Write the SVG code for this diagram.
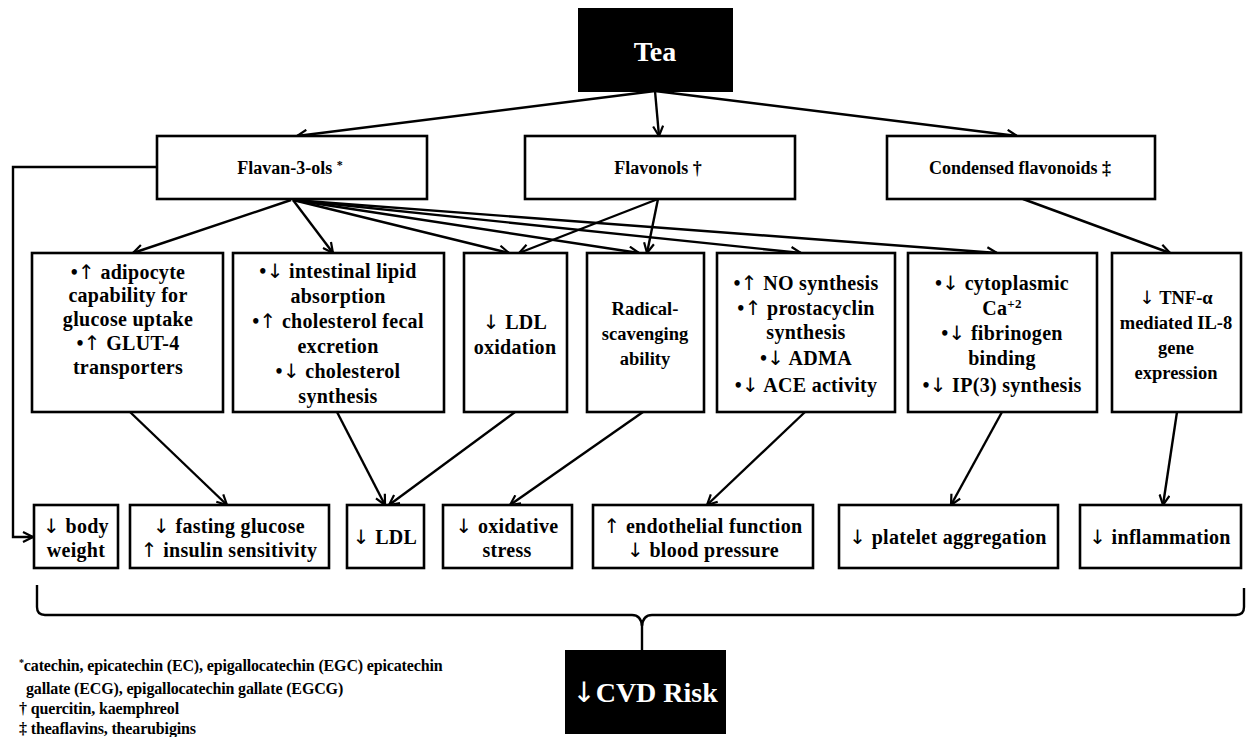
<svg xmlns="http://www.w3.org/2000/svg" width="1246" height="737" viewBox="0 0 1246 737">
<style>
.box{fill:#fff;stroke:#000;stroke-width:2.6}
.dark{fill:#000;stroke:#000;stroke-width:2}
.t{font-family:"Liberation Serif","Times New Roman",serif;font-weight:bold;fill:#000;text-anchor:middle}
.h{font-size:18px}
.m{font-size:20px;letter-spacing:0.3px}
.n{font-size:18.5px}
.big{font-size:28px;fill:#fff}
.ar{font-family:"DejaVu Sans",sans-serif;font-weight:normal}
.fn{font-family:"Liberation Serif","Times New Roman",serif;font-weight:bold;font-size:16px;fill:#000;letter-spacing:-0.15px}
.c{fill:none;stroke:#000;stroke-width:2.4}
</style>
<defs>
<marker id="ah" viewBox="0 0 12 12" refX="11" refY="6" markerWidth="12" markerHeight="12" markerUnits="userSpaceOnUse" orient="auto">
<path d="M1,1 L11,6 L1,11" fill="none" stroke="#000" stroke-width="2.2"/>
</marker>
</defs>
<rect width="1246" height="737" fill="#fff"/>

<g id="connectors">
<line class="c" x1="655" y1="91" x2="297" y2="136" marker-end="url(#ah)"/>
<line class="c" x1="655" y1="91" x2="659" y2="136" marker-end="url(#ah)"/>
<line class="c" x1="655" y1="91" x2="1017" y2="136" marker-end="url(#ah)"/>
<polyline class="c" points="157,167 13,167 13,537 33,537" marker-end="url(#ah)"/>
<line class="c" x1="291" y1="200" x2="133" y2="253" marker-end="url(#ah)"/>
<line class="c" x1="293" y1="200" x2="333" y2="253" marker-end="url(#ah)"/>
<line class="c" x1="293" y1="200" x2="509" y2="253" marker-end="url(#ah)"/>
<line class="c" x1="293" y1="200" x2="639" y2="253" marker-end="url(#ah)"/>
<line class="c" x1="293" y1="200" x2="801" y2="253" marker-end="url(#ah)"/>
<line class="c" x1="293" y1="200" x2="997" y2="253" marker-end="url(#ah)"/>
<line class="c" x1="658" y1="199" x2="519" y2="253" marker-end="url(#ah)"/>
<line class="c" x1="658" y1="199" x2="647" y2="253" marker-end="url(#ah)"/>
<line class="c" x1="1023" y1="199" x2="1170" y2="253" marker-end="url(#ah)"/>
<line class="c" x1="130" y1="412" x2="227" y2="505" marker-end="url(#ah)"/>
<line class="c" x1="337" y1="412" x2="385" y2="505" marker-end="url(#ah)"/>
<line class="c" x1="515" y1="412" x2="389" y2="505" marker-end="url(#ah)"/>
<line class="c" x1="643" y1="412" x2="510" y2="505" marker-end="url(#ah)"/>
<line class="c" x1="805" y1="412" x2="707" y2="505" marker-end="url(#ah)"/>
<line class="c" x1="1002" y1="412" x2="951" y2="505" marker-end="url(#ah)"/>
<line class="c" x1="1177" y1="412" x2="1163" y2="505" marker-end="url(#ah)"/>
<path class="c" d="M37,585 L37,607 Q37,615 45,615 L632,615 Q641,615 642,626 Q643,615 652,615 L1236,615 Q1244,615 1244,607 L1244,588"/>
<line class="c" x1="642" y1="624" x2="642" y2="651"/>
</g>

<g id="tea"><rect class="dark" x="579" y="9" width="153" height="82"/><text class="t big" x="655" y="61">Tea</text></g>
<g id="flavan"><rect class="box" x="157" y="136" width="270" height="63"/><text class="t h" x="290" y="174">Flavan-3-ols <tspan font-size="12" dy="-5">*</tspan></text></g>
<g id="flavonols"><rect class="box" x="525" y="136" width="270" height="63"/><text class="t h" x="658" y="174">Flavonols †</text></g>
<g id="condensed"><rect class="box" x="887" y="136" width="268" height="63"/><text class="t h" x="1020" y="174">Condensed flavonoids ‡</text></g>

<g id="adipocyte"><rect class="box" x="32" y="253" width="191" height="159"/>
<text class="t m" x="128"><tspan x="128" y="279">•<tspan class="ar">↑</tspan> adipocyte</tspan><tspan x="128" y="302">capability for</tspan><tspan x="128" y="326">glucose uptake</tspan><tspan x="128" y="350">•<tspan class="ar">↑</tspan> GLUT-4</tspan><tspan x="128" y="374">transporters</tspan></text></g>
<g id="lipid"><rect class="box" x="233" y="253" width="211" height="159"/>
<text class="t m" x="338"><tspan x="338" y="278">•<tspan class="ar">↓</tspan> intestinal lipid</tspan><tspan x="338" y="303">absorption</tspan><tspan x="338" y="328">•<tspan class="ar">↑</tspan> cholesterol fecal</tspan><tspan x="338" y="353">excretion</tspan><tspan x="338" y="378">•<tspan class="ar">↓</tspan> cholesterol</tspan><tspan x="338" y="403">synthesis</tspan></text></g>
<g id="ldlox"><rect class="box" x="464" y="253" width="103" height="159"/>
<text class="t m" x="515"><tspan x="515" y="329"><tspan class="ar">↓</tspan> LDL</tspan><tspan x="515" y="354">oxidation</tspan></text></g>
<g id="radical"><rect class="box" x="587" y="253" width="117" height="159"/>
<text class="t n" x="645"><tspan x="645" y="315">Radical-</tspan><tspan x="645" y="340">scavenging</tspan><tspan x="645" y="365">ability</tspan></text></g>
<g id="no"><rect class="box" x="717" y="253" width="178" height="159"/>
<text class="t m" x="806"><tspan x="806" y="290">•<tspan class="ar">↑</tspan> NO synthesis</tspan><tspan x="806" y="315">•<tspan class="ar">↑</tspan> prostacyclin</tspan><tspan x="806" y="339">synthesis</tspan><tspan x="806" y="365">•<tspan class="ar">↓</tspan> ADMA</tspan><tspan x="806" y="392">•<tspan class="ar">↓</tspan> ACE activity</tspan></text></g>
<g id="calcium"><rect class="box" x="908" y="253" width="189" height="159"/>
<text class="t m" x="1002"><tspan x="1002" y="290">•<tspan class="ar">↓</tspan> cytoplasmic</tspan><tspan x="1002" y="315">Ca<tspan font-size="13" dy="-7">+2</tspan></tspan><tspan x="1002" y="340">•<tspan class="ar">↓</tspan> fibrinogen</tspan><tspan x="1002" y="365">binding</tspan><tspan x="1002" y="392">•<tspan class="ar">↓</tspan> IP(3) synthesis</tspan></text></g>
<g id="tnf"><rect class="box" x="1112" y="253" width="129" height="159"/>
<text class="t n" x="1176"><tspan x="1176" y="304"><tspan class="ar">↓</tspan> TNF-α</tspan><tspan x="1176" y="329">mediated IL-8</tspan><tspan x="1176" y="354">gene</tspan><tspan x="1176" y="379">expression</tspan></text></g>

<g id="bodyweight"><rect class="box" x="34" y="505" width="84" height="63"/>
<text class="t m" x="76"><tspan x="76" y="533"><tspan class="ar">↓</tspan> body</tspan><tspan x="76" y="557">weight</tspan></text></g>
<g id="glucose"><rect class="box" x="130" y="505" width="199" height="63"/>
<text class="t m" x="229"><tspan x="229" y="533"><tspan class="ar">↓</tspan> fasting glucose</tspan><tspan x="229" y="557"><tspan class="ar">↑</tspan> insulin sensitivity</tspan></text></g>
<g id="ldl"><rect class="box" x="347" y="505" width="77" height="63"/><text class="t m" x="385" y="544"><tspan class="ar">↓</tspan> LDL</text></g>
<g id="oxstress"><rect class="box" x="443" y="505" width="129" height="63"/>
<text class="t m" x="507"><tspan x="507" y="533"><tspan class="ar">↓</tspan> oxidative</tspan><tspan x="507" y="557">stress</tspan></text></g>
<g id="endothelial"><rect class="box" x="593" y="505" width="220" height="63"/>
<text class="t m" x="703"><tspan x="703" y="533"><tspan class="ar">↑</tspan> endothelial function</tspan><tspan x="703" y="557"><tspan class="ar">↓</tspan> blood pressure</tspan></text></g>
<g id="platelet"><rect class="box" x="839" y="505" width="219" height="63"/><text class="t m" x="948" y="544"><tspan class="ar">↓</tspan> platelet aggregation</text></g>
<g id="inflammation"><rect class="box" x="1080" y="505" width="161" height="63"/><text class="t m" x="1160" y="544"><tspan class="ar">↓</tspan> inflammation</text></g>

<g id="cvd"><rect class="dark" x="566" y="651" width="159" height="82"/><text class="t big" x="645" y="702"><tspan class="ar">↓</tspan>CVD Risk</text></g>

<g id="footnotes">
<text class="fn" x="19" y="671"><tspan font-size="10" dy="-5">*</tspan><tspan dy="5">catechin, epicatechin (EC), epigallocatechin (EGC) epicatechin</tspan></text>
<text class="fn" x="26" y="694">gallate (ECG), epigallocatechin gallate (EGCG)</text>
<text class="fn" x="19" y="714">† quercitin, kaemphreol</text>
<text class="fn" x="19" y="734">‡ theaflavins, thearubigins</text>
</g>
</svg>
